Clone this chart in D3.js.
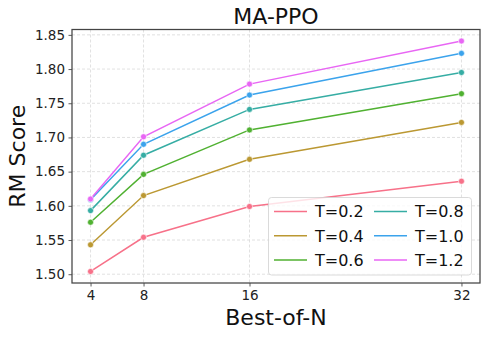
<!DOCTYPE html>
<html>
<head>
<meta charset="utf-8">
<script src="https://cdn.jsdelivr.net/npm/d3@7"></script>
<style>
  html, body { margin: 0; padding: 0; background: #fff; }
  svg { display: block; font-family: "DejaVu Sans", sans-serif; }
</style>
</head>
<body>
<svg id="chart" width="487" height="337"></svg>
<script>
const bestOfN = [4, 8, 16, 32];
const seriesNames = ["T=0.2", "T=0.4", "T=0.6", "T=0.8", "T=1.0", "T=1.2"];
const t02 = [1.504, 1.554, 1.599, 1.636];
const t04 = [1.543, 1.615, 1.668, 1.722];
const t06 = [1.576, 1.646, 1.711, 1.764];
const t08 = [1.593, 1.674, 1.741, 1.795];
const t10 = [1.609, 1.690, 1.762, 1.823];
const t12 = [1.610, 1.701, 1.778, 1.841];
const yTicks = [1.50, 1.55, 1.60, 1.65, 1.70, 1.75, 1.80, 1.85];
const colors = ["#f77189", "#bb9832", "#50b131", "#36ada4", "#3ba3ec", "#e866f4"];
const title = "MA-PPO";
const xLabel = "Best-of-N";
const yLabel = "RM Score";

const seriesValues = [t02, t04, t06, t08, t10, t12];
const series = seriesNames.map((name, i) => ({
  name, color: colors[i],
  points: bestOfN.map((n, j) => ({ n, v: seriesValues[i][j] }))
}));

const pL = 72, pR = 480, pT = 29.5, pB = 283;
const svg = d3.select("#chart");

const allV = seriesValues.flat();
const vMin = d3.min(allV), vMax = d3.max(allV);
const vPad = (vMax - vMin) * 0.05;
const xMin = d3.min(bestOfN), xMax = d3.max(bestOfN);
const xPad = (xMax - xMin) * 0.05;

const x = d3.scaleLinear().domain([xMin - xPad, xMax + xPad]).range([pL, pR]);
const y = d3.scaleLinear().domain([vMin - vPad, vMax + vPad]).range([pB, pT]);

// grid
const grid = svg.append("g");
grid.selectAll("line.gy").data(yTicks).join("line")
  .attr("x1", pL).attr("x2", pR)
  .attr("y1", d => y(d)).attr("y2", d => y(d))
  .attr("stroke", "#d9d9d9").attr("stroke-width", 0.8).attr("stroke-dasharray", "3,2");
grid.selectAll("line.gx").data(bestOfN).join("line")
  .attr("y1", pT).attr("y2", pB)
  .attr("x1", d => x(d)).attr("x2", d => x(d))
  .attr("stroke", "#d9d9d9").attr("stroke-width", 0.8).attr("stroke-dasharray", "3,2");

// axes
const xAxis = d3.axisBottom(x).tickValues(bestOfN).tickFormat(d3.format("d")).tickSizeOuter(0).tickSize(3.5).tickPadding(3.5);
const yAxis = d3.axisLeft(y).tickValues(yTicks).tickFormat(d3.format(".2f")).tickSizeOuter(0).tickSize(3.5).tickPadding(3.5);

const gx = svg.append("g").attr("transform", `translate(0,${pB})`).call(xAxis);
const gy = svg.append("g").attr("transform", `translate(${pL},0)`).call(yAxis);
[gx, gy].forEach(g => {
  g.select(".domain").remove();
  g.selectAll(".tick line").attr("stroke", "#333").attr("stroke-width", 0.8);
  g.selectAll(".tick text").attr("fill", "#222").style("font-size", "13.5px").style("font-family", "DejaVu Sans");
});

// frame
svg.append("rect").attr("x", pL).attr("y", pT)
  .attr("width", pR - pL).attr("height", pB - pT)
  .attr("fill", "none").attr("stroke", "#444").attr("stroke-width", 1.25);

// lines
const line = d3.line().x(d => x(d.n)).y(d => y(d.v));
const gs = svg.append("g").selectAll("g").data(series).join("g");
gs.append("path").attr("d", d => line(d.points))
  .attr("fill", "none").attr("stroke", d => d.color).attr("stroke-width", 1.5);
gs.selectAll("circle").data(d => d.points.map(p => ({ ...p, color: d.color }))).join("circle")
  .attr("cx", d => x(d.n)).attr("cy", d => y(d.v)).attr("r", 3)
  .attr("fill", d => d.color).attr("stroke", "#fff").attr("stroke-width", 0.6);

// title & labels
svg.append("text").attr("x", (pL + pR) / 2).attr("y", 23.5)
  .attr("text-anchor", "middle").style("font-size", "22px").attr("fill", "#111").text(title);
svg.append("text").attr("x", (pL + pR) / 2).attr("y", 325)
  .attr("text-anchor", "middle").style("font-size", "22px").attr("fill", "#111").text(xLabel);
svg.append("text").attr("transform", `translate(25,${(pT + pB) / 2}) rotate(-90)`)
  .attr("text-anchor", "middle").style("font-size", "22px").attr("fill", "#111").text(yLabel);

// legend
const lg = svg.append("g");
lg.append("rect").attr("x", 268.5).attr("y", 197.5).attr("width", 203).attr("height", 77.5)
  .attr("rx", 3).attr("fill", "#fff").attr("fill-opacity", 0.8).attr("stroke", "#d0d0d0").attr("stroke-width", 0.8);
series.forEach((s, i) => {
  const col = Math.floor(i / 3), row = i % 3;
  const lx = 274 + col * 100, ly = 211.5 + row * 24.2;
  lg.append("line").attr("x1", lx).attr("x2", lx + 33).attr("y1", ly).attr("y2", ly)
    .attr("stroke", s.color).attr("stroke-width", 1.5);
  lg.append("text").attr("x", lx + 41).attr("y", ly + 5.8)
    .style("font-size", "16px").attr("fill", "#111").text(s.name);
});
</script>
</body>
</html>
